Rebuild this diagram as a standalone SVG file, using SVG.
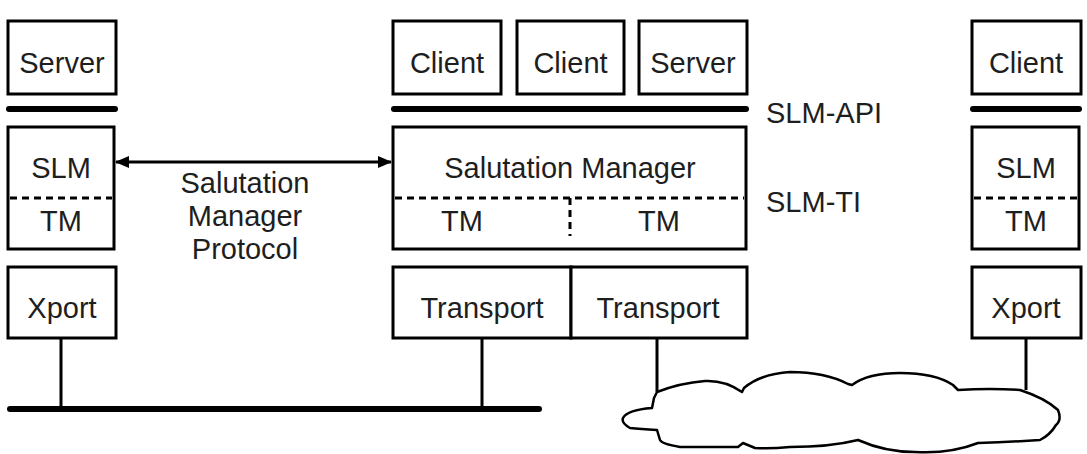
<svg xmlns="http://www.w3.org/2000/svg" width="1087" height="454" viewBox="0 0 1087 454">
<defs>
<style>
.box{fill:#fff;stroke:#000;stroke-width:3}
.bar{stroke:#000;stroke-width:6;stroke-linecap:round}
.ln{stroke:#000;stroke-width:3;fill:none}
.dot{stroke:#000;stroke-width:3;stroke-dasharray:7 5;fill:none}
text{font-family:"Liberation Sans",Arial,sans-serif;font-size:29px;fill:#1e1e1e;text-anchor:middle}
.lbl{text-anchor:start}
</style>
<marker id="ah" markerWidth="14" markerHeight="12" refX="13" refY="6" orient="auto-start-reverse" markerUnits="userSpaceOnUse">
<path d="M0,0 L14,6 L0,12 Z" fill="#000"/>
</marker>
</defs>
<rect width="1087" height="454" fill="#fff"/>

<g id="left-server"><rect class="box" x="8" y="21" width="108" height="73"/><text x="62" y="73">Server</text></g>
<g id="left-slm"><rect class="box" x="8" y="127" width="106" height="122"/><line class="dot" x1="10" y1="198" x2="112" y2="198"/><text x="61" y="178">SLM</text><text x="61" y="231">TM</text></g>
<g id="left-xport"><rect class="box" x="8" y="267" width="108" height="71"/><text x="62" y="318">Xport</text></g>

<g id="mid-client1"><rect class="box" x="393" y="21" width="108" height="73"/><text x="447" y="73">Client</text></g>
<g id="mid-client2"><rect class="box" x="517" y="21" width="107" height="73"/><text x="570.5" y="73">Client</text></g>
<g id="mid-server"><rect class="box" x="639" y="21" width="108" height="73"/><text x="693" y="73">Server</text></g>
<g id="mid-sm"><rect class="box" x="393" y="127" width="353" height="122"/><line class="dot" x1="395" y1="198" x2="744" y2="198"/><line class="dot" x1="570" y1="198" x2="570" y2="236"/><text x="570" y="178">Salutation Manager</text><text x="462" y="231">TM</text><text x="659" y="231">TM</text></g>
<g id="mid-transport1"><rect class="box" x="393" y="267" width="178" height="71"/><text x="482" y="318">Transport</text></g>
<g id="mid-transport2"><rect class="box" x="571" y="267" width="176" height="71"/><text x="658" y="318">Transport</text></g>

<g id="right-client"><rect class="box" x="972" y="21" width="109" height="73"/><text x="1026" y="73">Client</text></g>
<g id="right-slm"><rect class="box" x="972" y="127" width="107" height="122"/><line class="dot" x1="974" y1="198" x2="1077" y2="198"/><text x="1026" y="178">SLM</text><text x="1026" y="231">TM</text></g>
<g id="right-xport"><rect class="box" x="972" y="267" width="109" height="71"/><text x="1026" y="318">Xport</text></g>

<g id="labels">
<text class="lbl" x="766" y="123">SLM-API</text>
<text class="lbl" x="766" y="212">SLM-TI</text>
<text x="245" y="193">Salutation</text>
<text x="245" y="226">Manager</text>
<text x="245" y="259">Protocol</text>
</g>

<g id="cloud">
<path d="M657,392 Q680,383 705,381 Q725,380 742,392 L744,388 Q760,374 790,372 Q825,372 848,384 L852,385 Q868,373 900,373 Q935,373 953,385 L958,390 Q990,388 1020,390 Q1045,398 1058,410 Q1062,420 1056,425 Q1050,435 1040,440 Q1010,442 978,443 Q950,454 915,452 Q885,452 858,440 Q830,447 790,447 Q770,449 755,448 L743,443 L738,447 Q700,447 680,447 Q662,444 660,440 L657,430 Q640,429 630,428 Q621,423 623,418 Q627,410 652,408 L654,398 Z" fill="#fff" stroke="#000" stroke-width="2.5" stroke-linejoin="round"/>
</g>

<g id="connectors">
<line class="bar" x1="9" y1="109" x2="115" y2="109"/>
<line class="bar" x1="394" y1="109" x2="746" y2="109"/>
<line class="bar" x1="973" y1="109" x2="1079" y2="109"/>
<line class="bar" x1="10" y1="409" x2="539" y2="409"/>
<line class="ln" x1="61" y1="338" x2="61" y2="409"/>
<line class="ln" x1="482" y1="338" x2="482" y2="409"/>
<line class="ln" x1="657" y1="338" x2="657" y2="392"/>
<line class="ln" x1="1026" y1="338" x2="1026" y2="390"/>
<line class="ln" x1="116" y1="162" x2="391" y2="162" marker-start="url(#ah)" marker-end="url(#ah)"/>
</g>
</svg>
